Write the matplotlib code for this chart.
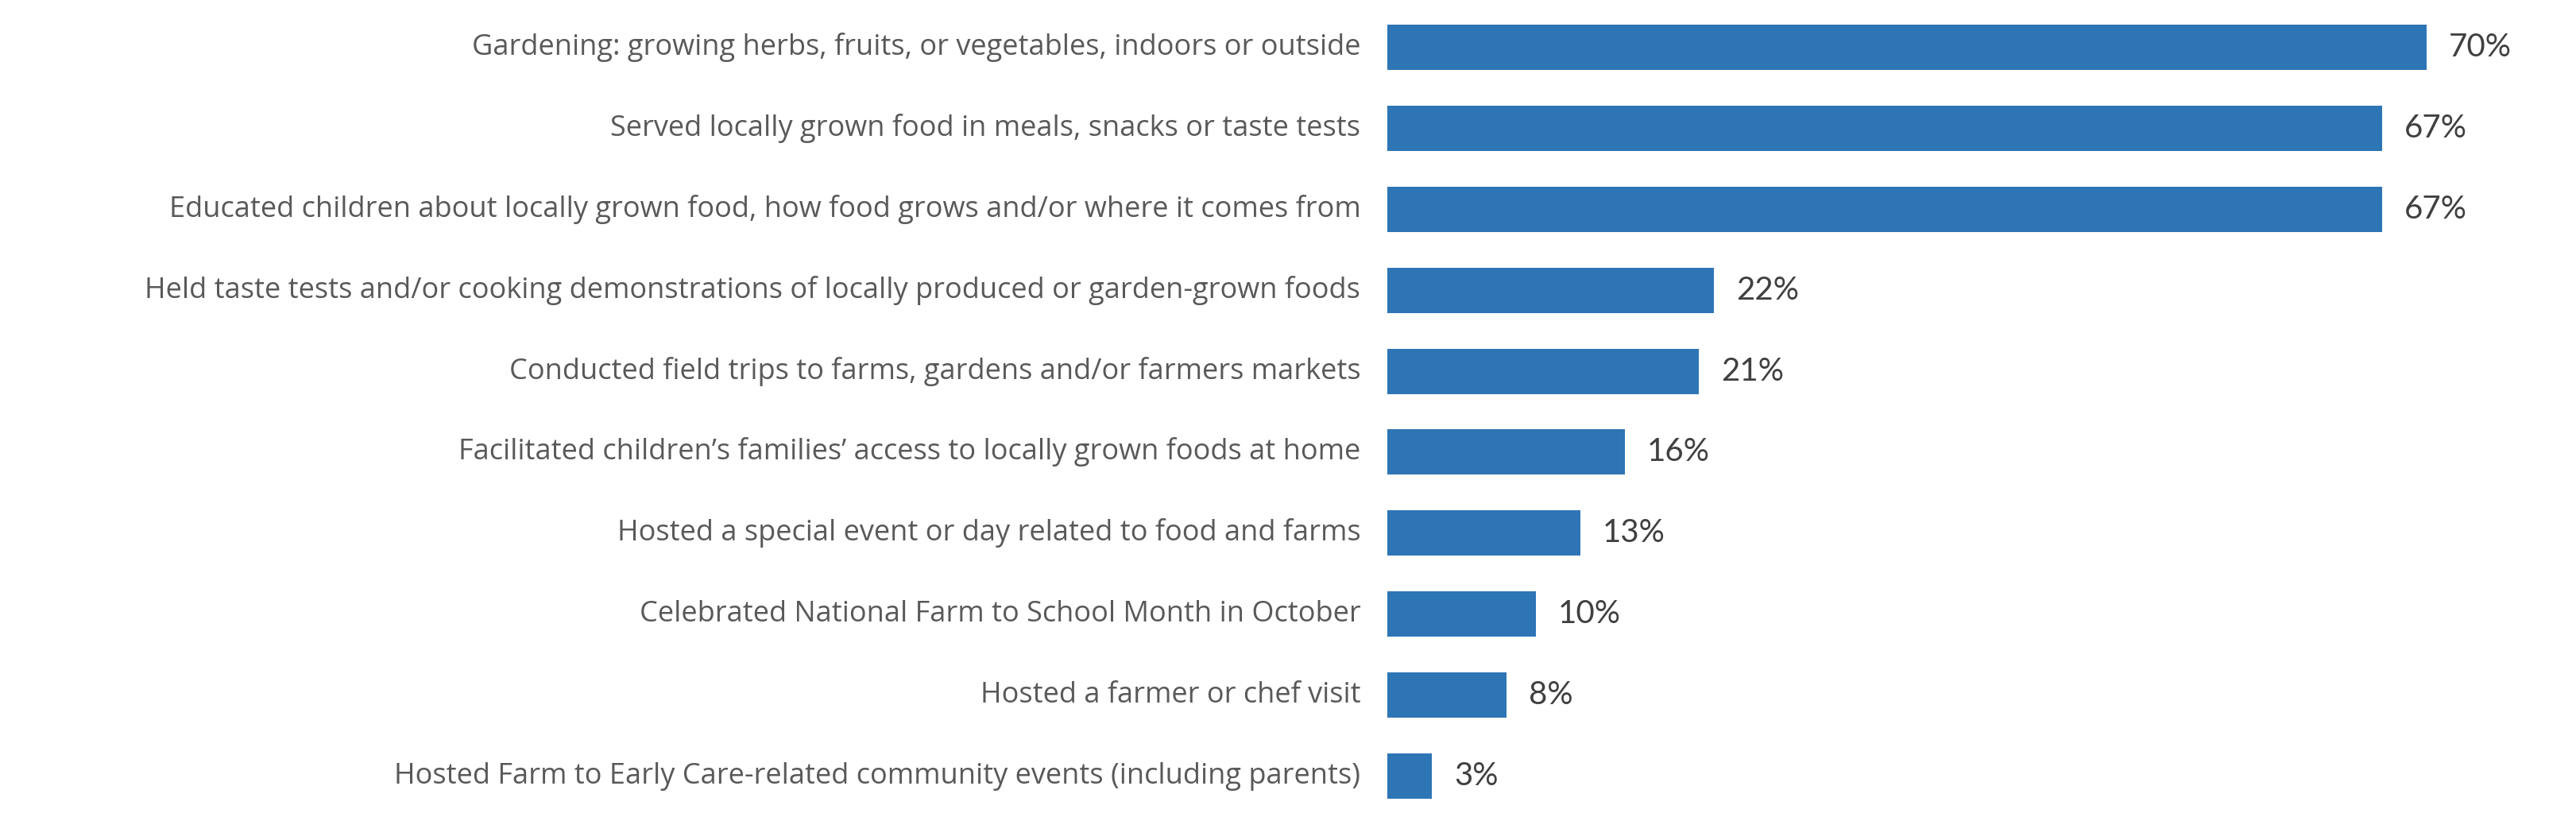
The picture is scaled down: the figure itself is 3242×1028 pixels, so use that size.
import matplotlib
matplotlib.use("Agg")
import matplotlib.pyplot as plt

categories = [
    "Gardening: growing herbs, fruits, or vegetables, indoors or outside",
    "Served locally grown food in meals, snacks or taste tests",
    "Educated children about locally grown food, how food grows and/or where it comes from",
    "Held taste tests and/or cooking demonstrations of locally produced or garden-grown foods",
    "Conducted field trips to farms, gardens and/or farmers markets",
    "Facilitated children\u2019s families\u2019 access to locally grown foods at home",
    "Hosted a special event or day related to food and farms",
    "Celebrated National Farm to School Month in October",
    "Hosted a farmer or chef visit",
    "Hosted Farm to Early Care-related community events (including parents)",
]
values = [70, 67, 67, 22, 21, 16, 13, 10, 8, 3]

W, H = 3242, 1028
fig = plt.figure(figsize=(W / 100, H / 100), dpi=100)
ax = fig.add_axes([1746 / W, 0.5 / H, 1495 / W, 1019 / H])

ypos = list(range(len(categories)))
ax.barh(ypos, values, height=0.56, color="#2E75B6")
ax.set_xlim(0, 80)
ax.set_ylim(len(categories) - 0.5, -0.5)

for y, v, c in zip(ypos, values, categories):
    ax.text(v + 1.5, y, f"{v}%", va="center", ha="left",
            fontsize=29, color="#404040", family="Lato")
    ax.text(-1.8, y, c, va="center", ha="right",
            fontsize=26, color="#595959", family="Open Sans")

ax.axis("off")
fig.savefig("out.png", dpi=100)
